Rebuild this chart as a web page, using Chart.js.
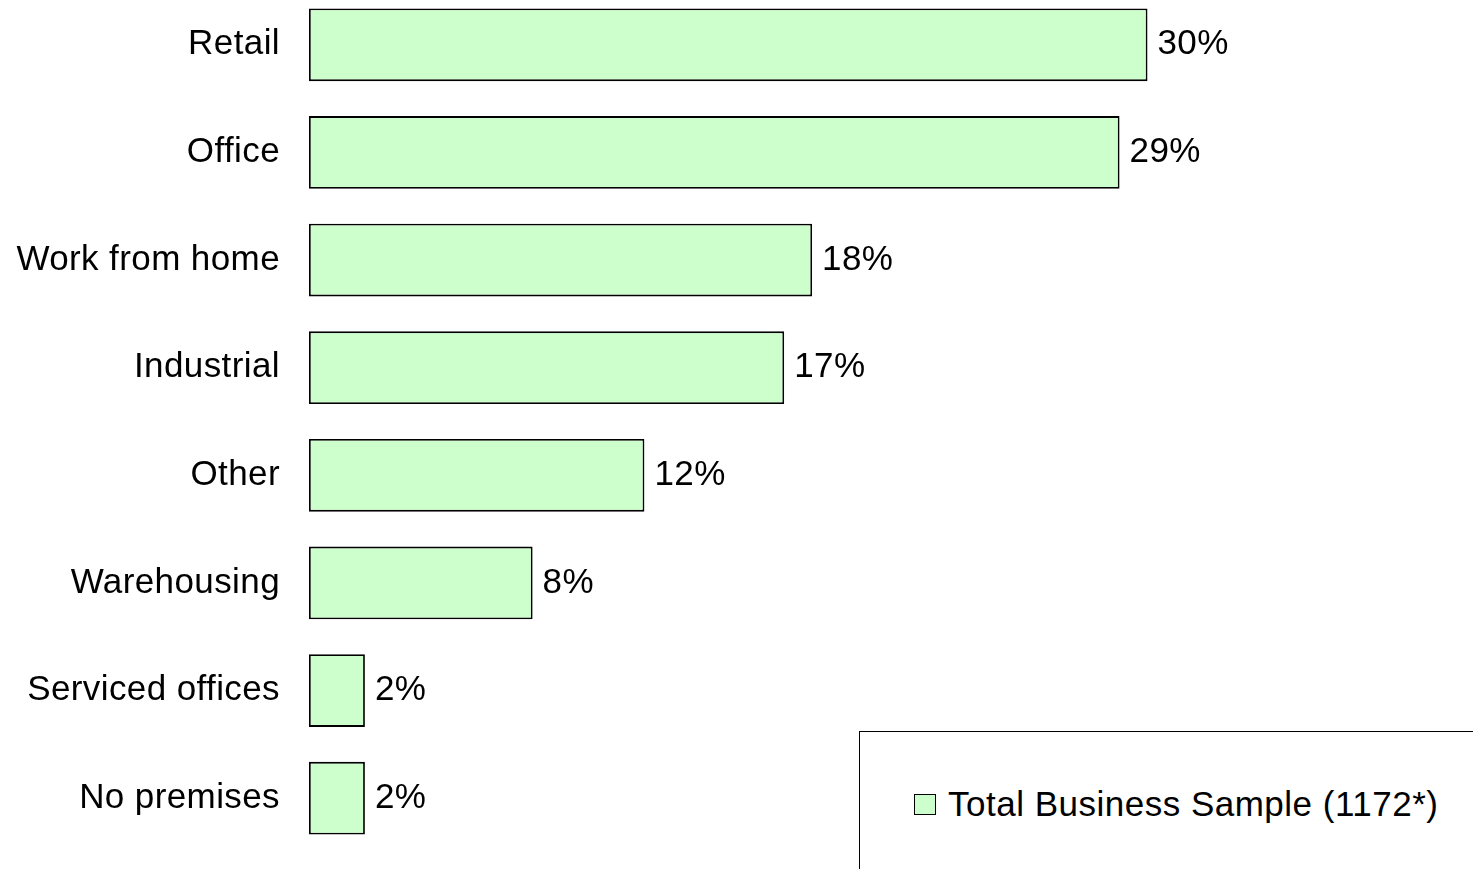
<!DOCTYPE html>
<html>
<head>
<meta charset="utf-8">
<script src="https://cdn.jsdelivr.net/npm/chart.js@4.4.1/dist/chart.umd.min.js"></script>
<style>
  html, body { margin: 0; padding: 0; background: #fff; overflow: hidden; }
  #wrap { position: absolute; left: 0; top: -59px; width: 1473px; height: 961px; }
  #legend {
    position: absolute; left: 859px; top: 731px; width: 700px; height: 200px;
    border: 1px solid #000; background: #fff; box-sizing: border-box;
    font-family: 'Liberation Sans', Arial, sans-serif; font-size: 35px; color: #000;
    letter-spacing: 0.5px;
  }
  #legend .box {
    position: absolute; left: 54px; top: 62px; width: 20px; height: 19px;
    background: #CCFFCC; border: 1px solid #000;
  }
  #legend .txt { position: absolute; left: 88px; top: 52px; white-space: nowrap; line-height: 40px; }
</style>
</head>
<body>
<div id="wrap"><canvas id="chart"></canvas></div>
<div id="legend"></div>
<script>
    // datos del grafico
    const categorias = ['Retail', 'Office', 'Work from home', 'Industrial', 'Other', 'Warehousing', 'Serviced offices', 'No premises'];
    const valores = [30, 29, 18, 17, 12, 8, 2, 2];
    const serieNombre = 'Total Business Sample (1172*)';

    const fuente = "'Liberation Sans', Arial, sans-serif";

    // un poco de espaciado entre letras, como en el original
    const espaciado = {
      id: 'espaciado',
      beforeDraw(chart) {
        chart.ctx.letterSpacing = '0.4px';
      }
    };

    // etiquetas de valor al final de cada barra
    const etiquetasValor = {
      id: 'etiquetasValor',
      afterDatasetsDraw(chart) {
        const ctx = chart.ctx;
        const meta = chart.getDatasetMeta(0);
        ctx.save();
        ctx.font = '35px ' + fuente;
        ctx.fillStyle = '#000';
        ctx.textAlign = 'left';
        ctx.textBaseline = 'middle';
        meta.data.forEach((bar, i) => {
          ctx.fillText(valores[i] + '%', bar.x + 10, bar.y);
        });
        ctx.restore();
      }
    };

    const ctx = document.getElementById('chart').getContext('2d');

    new Chart(ctx, {
      type: 'bar',
      data: {
        labels: categorias,
        datasets: [{
          label: serieNombre,
          data: valores,
          backgroundColor: '#CCFFCC',
          borderColor: '#000000',
          borderWidth: 1.8,
          borderSkipped: false,
          barPercentage: 0.675,
          categoryPercentage: 1
        }]
      },
      options: {
        indexAxis: 'y',
        responsive: true,
        maintainAspectRatio: false,
        animation: false,
        layout: { padding: { top: 0, bottom: 0, left: 0, right: 46 } },
        plugins: {
          legend: { display: false },
          tooltip: { enabled: false }
        },
        scales: {
          x: {
            display: false,
            min: 0,
            max: 40
          },
          y: {
            afterFit: (scale) => { scale.width = 309; },
            grid: { display: false, drawTicks: false },
            border: { display: false },
            ticks: {
              crossAlign: 'near',
              padding: 29,
              color: '#000',
              font: { family: fuente, size: 35 }
            }
          }
        }
      },
      plugins: [espaciado, etiquetasValor]
    });

    // leyenda
    document.getElementById('legend').innerHTML =
      '<div class="box"></div><div class="txt">' + serieNombre + '</div>';
</script>
</body>
</html>
